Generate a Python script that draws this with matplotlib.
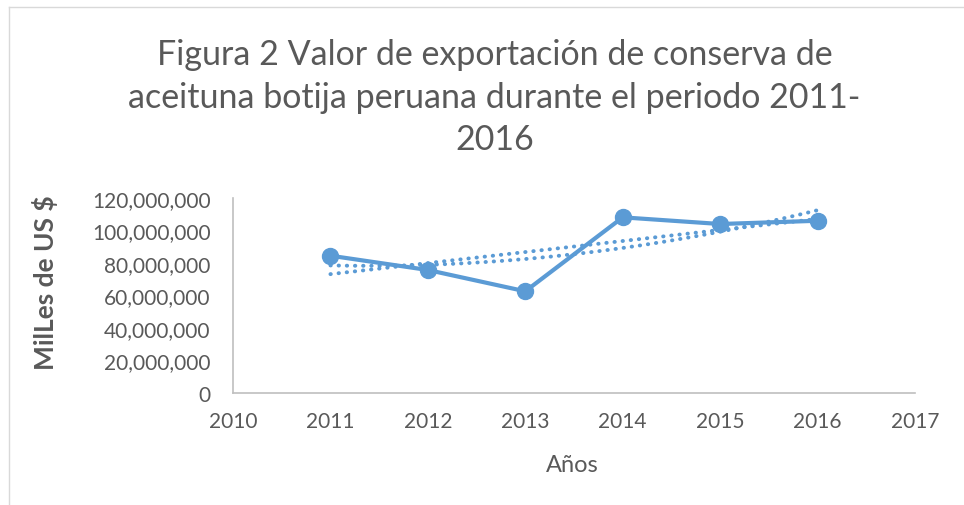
import numpy as np
import matplotlib
matplotlib.use("Agg")
import matplotlib.pyplot as plt
from matplotlib.ticker import FuncFormatter
from matplotlib.lines import Line2D

years = [2011, 2012, 2013, 2014, 2015, 2016]
valores = [84500000, 75700000, 62600000, 108100000, 104000000, 106000000]
xticks = [2010, 2011, 2012, 2013, 2014, 2015, 2016, 2017]
yticks = [0, 20000000, 40000000, 60000000, 80000000, 100000000, 120000000]

titulo = "Figura 2 Valor de exportación de conserva de\naceituna botija peruana durante el periodo 2011-\n2016"

azul = "#5b9bd5"
gris = "#595959"
plt.rcParams['font.family'] = ['Lato', 'DejaVu Sans']

fig = plt.figure(figsize=(9.64, 5.06), dpi=100)
ax = fig.add_axes([0.2417, 0.2213, 0.7075, 0.3854])

# trend lines (Excel style: linear and polynomial order 2)
x = np.array(years, dtype=float)
y = np.array(valores, dtype=float)
xs = np.linspace(x.min(), x.max(), 200)
lin = np.polyfit(x - 2011, y, 1)
pol = np.polyfit(x - 2011, y, 2)
for coef in (lin, pol):
    ax.plot(xs, np.polyval(coef, xs - 2011), color=azul, lw=2.8, ls=(0, (0.1, 2.0)),
            dash_capstyle="round", zorder=2)

ax.plot(years, valores, color=azul, lw=3, marker="o", markersize=11.5, zorder=3)

ax.set_xlim(2010, 2017)
ax.set_ylim(0, 120000000)
ax.set_xticks(xticks)
ax.set_yticks(yticks)
ax.yaxis.set_major_formatter(FuncFormatter(lambda v, p: f"{int(v):,}"))
ax.tick_params(length=0, colors=gris, labelsize=15)
ax.tick_params(axis="y", pad=16)
ax.tick_params(axis="x", pad=13)
for s in ["top", "right"]:
    ax.spines[s].set_visible(False)
for s in ["left", "bottom"]:
    ax.spines[s].set_color("#bfbfbf")
    ax.spines[s].set_linewidth(1.2)

fig.text(0.594, 0.081, "Años", color=gris, fontsize=17, ha="center", va="center")
fig.text(0.047, 0.441, "MilLes de US $", rotation=90, color=gris, fontsize=19,
         fontweight="bold", ha="center", va="center")
fig.text(0.513, 0.807, titulo, ha="center", va="center", color=gris, fontsize=24.5,
         linespacing=1.4)

# chart border (cropped on the right and bottom)
fig.add_artist(Line2D([0.009, 1.0], [0.984, 0.984], color="#d9d9d9", lw=1))
fig.add_artist(Line2D([0.009, 0.009], [0.0, 0.984], color="#d9d9d9", lw=1))

fig.savefig("out.png", dpi=100)
